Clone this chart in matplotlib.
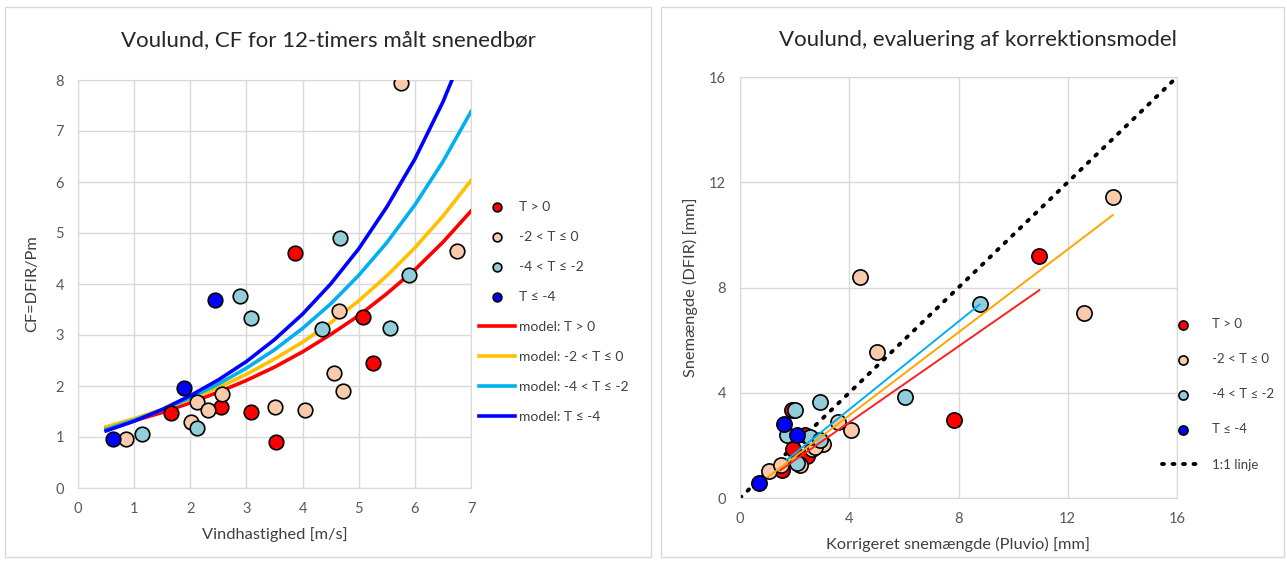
import matplotlib.pyplot as plt
from matplotlib.patches import Rectangle

plt.rcParams['font.family'] = ['Lato', 'DejaVu Sans']

# --- venstre: CF mod vindhastighed ---
wind_red = [1.65, 2.54, 3.09, 3.52, 3.86, 5.08, 5.25]
cf_red = [1.48, 1.59, 1.50, 0.91, 4.60, 3.36, 2.45]
wind_orange = [0.86, 2.02, 2.12, 2.32, 2.57, 3.51, 4.05, 4.56, 4.72, 4.64, 5.76, 6.75]
cf_orange = [0.97, 1.29, 1.68, 1.52, 1.85, 1.59, 1.53, 2.25, 1.91, 3.48, 7.94, 4.65]
wind_lblue = [1.14, 2.12, 2.89, 3.08, 4.34, 4.67, 5.55, 5.90]
cf_lblue = [1.05, 1.18, 3.76, 3.34, 3.12, 4.91, 3.13, 4.17]
wind_blue = [0.62, 1.89, 2.44]
cf_blue = [0.96, 1.97, 3.69]

model_u = [0.5, 1, 1.5, 2, 2.5, 3, 3.5, 4, 4.5, 5, 5.5, 6, 6.5, 7]
model_red = [1.17, 1.32, 1.48, 1.67, 1.88, 2.11, 2.37, 2.67, 3.01, 3.38, 3.81, 4.28, 4.82, 5.43]
model_orange = [1.20, 1.36, 1.54, 1.74, 1.97, 2.23, 2.53, 2.86, 3.24, 3.67, 4.16, 4.71, 5.33, 6.03]
model_lblue = [1.15, 1.33, 1.53, 1.77, 2.04, 2.35, 2.71, 3.13, 3.61, 4.17, 4.81, 5.55, 6.40, 7.38]
model_blue = [1.12, 1.31, 1.54, 1.81, 2.12, 2.48, 2.91, 3.41, 4.00, 4.69, 5.51, 6.45, 7.57, 8.90]

# --- hoejre: DFIR mod korrigeret Pluvio ---
pl_red = [10.95, 7.84, 1.89, 1.95, 2.44, 1.55, 2.38]
dfir_red = [9.21, 2.95, 3.36, 1.88, 1.59, 1.08, 2.38]
pl_orange = [13.65, 4.41, 5.02, 12.59, 4.07, 3.60, 3.05, 1.06, 1.50, 2.20, 2.62, 2.75]
dfir_orange = [11.44, 8.40, 5.53, 7.03, 2.60, 2.89, 2.07, 1.03, 1.24, 1.24, 1.88, 1.95]
pl_lblue = [8.78, 6.04, 2.93, 2.01, 1.71, 2.56, 2.93, 2.08]
dfir_lblue = [7.36, 3.83, 3.65, 3.36, 2.38, 2.32, 2.22, 1.33]
pl_blue = [0.70, 1.61, 2.10]
dfir_blue = [0.57, 2.80, 2.38]

fit_red_x = [1.47, 10.96]
fit_red_y = [1.05, 7.90]
fit_orange_x = [1.03, 13.65]
fit_orange_y = [0.80, 10.75]
fit_lblue_x = [1.71, 8.77]
fit_lblue_y = [1.45, 7.35]
one_to_one = [0, 16]

groups = ['T > 0', '-2 < T ≤ 0', '-4 < T ≤ -2', 'T ≤ -4']
pt_colors = ['#FF0000', '#F8CBAD', '#92CDDC', '#0000FF']
line_colors = ['#FF0000', '#FFC000', '#00B0F0', '#0000FF']

grid_c = '#D9D9D9'
tick_c = '#595959'
text_c = '#404040'

fig = plt.figure(figsize=(12.87, 5.62), dpi=100)
W, H = 1287, 562
for x0, x1 in [(5, 651), (661, 1284)]:
    fig.patches.append(Rectangle((x0 / W, 1 - 557 / H), (x1 - x0) / W, 550 / H,
                                 transform=fig.transFigure, fill=False,
                                 edgecolor=grid_c, linewidth=1))


def style(ax):
    ax.grid(True, color=grid_c, linewidth=1)
    ax.set_axisbelow(True)
    for s in ax.spines.values():
        s.set_color(grid_c)
    ax.tick_params(length=0, colors=tick_c, labelsize=10.5, pad=10)


ax1 = fig.add_axes([78 / W, 1 - 488 / H, 393 / W, 408 / H])
style(ax1)
for x, y, c, lab in zip([wind_red, wind_orange, wind_lblue, wind_blue],
                        [cf_red, cf_orange, cf_lblue, cf_blue], pt_colors, groups):
    ax1.scatter(x, y, s=110, color=c, edgecolor='black', linewidth=1.2, zorder=4, label=lab)
for y, c, lab in zip([model_red, model_orange, model_lblue, model_blue], line_colors, groups):
    ax1.plot(model_u, y, color=c, linewidth=2.6, zorder=3, label='model: ' + lab)
ax1.set_xlim(0, 7)
ax1.set_ylim(0, 8)
ax1.set_xticks(range(0, 8))
ax1.set_yticks(range(0, 9))
ax1.set_xlabel('Vindhastighed [m/s]', fontsize=11.8, color=text_c, labelpad=8)
ax1.set_ylabel('CF=DFIR/Pm', fontsize=11.8, color=text_c, labelpad=12)
fig.text(328 / W, 1 - 40 / H, 'Voulund, CF for 12-timers målt snenedbør',
         fontsize=16, color='#262626', ha='center', va='center')
leg1 = ax1.legend(loc='upper left', bbox_to_anchor=(0.995, 0.728), frameon=False,
                  fontsize=10, handlelength=2.6, handletextpad=0.3,
                  labelspacing=1.3, markerscale=0.6, borderaxespad=0.3)
for t in leg1.get_texts():
    t.set_color(text_c)

ax2 = fig.add_axes([740 / W, 1 - 498 / H, 437 / W, 421 / H])
style(ax2)
ax2.plot(one_to_one, one_to_one, color='black', linestyle=(0, (0.5, 2.2)),
         dash_capstyle='round', linewidth=2.8, zorder=2, label='1:1 linje')
for x, y, c, lab in zip([pl_red, pl_orange, pl_lblue, pl_blue],
                        [dfir_red, dfir_orange, dfir_lblue, dfir_blue], pt_colors, groups):
    ax2.scatter(x, y, s=120, color=c, edgecolor='black', linewidth=1.2, zorder=3, label=lab)
for x, y, c in zip([fit_red_x, fit_orange_x, fit_lblue_x],
                   [fit_red_y, fit_orange_y, fit_lblue_y],
                   ['#FF2020', '#FFA500', '#00B0F0']):
    ax2.plot(x, y, color=c, linewidth=1.4, zorder=4)
ax2.set_xlim(0, 16)
ax2.set_ylim(0, 16)
ax2.set_xticks([0, 4, 8, 12, 16])
ax2.set_yticks([0, 4, 8, 12, 16])
ax2.set_xlabel('Korrigeret snemængde (Pluvio) [mm]', fontsize=11.8, color=text_c, labelpad=8)
ax2.set_ylabel('Snemængde (DFIR) [mm]', fontsize=11.8, color=text_c, labelpad=8)
fig.text(978 / W, 1 - 40 / H, 'Voulund, evaluering af korrektionsmodel',
         fontsize=16, color='#262626', ha='center', va='center')
h, l = ax2.get_legend_handles_labels()
leg2 = ax2.legend(h[1:] + h[:1], l[1:] + l[:1], loc='upper left',
                  bbox_to_anchor=(0.945, 0.449), frameon=False, fontsize=9.5,
                  handlelength=3.2, handletextpad=0.6, labelspacing=1.75,
                  markerscale=0.6, borderaxespad=0.3)
for t in leg2.get_texts():
    t.set_color(text_c)

fig.savefig('out.png', dpi=100)
